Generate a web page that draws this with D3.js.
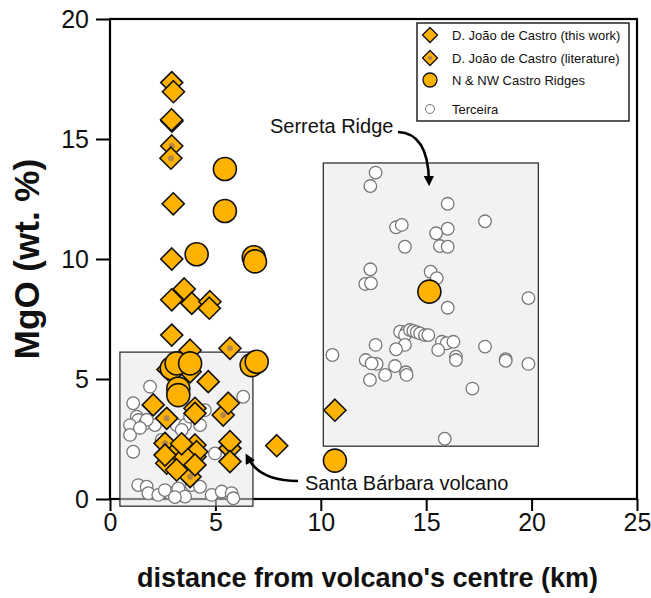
<!DOCTYPE html>
<html>
<head>
<meta charset="utf-8">
<script src="https://cdn.jsdelivr.net/npm/d3@7"></script>
<style>
  body { margin: 0; background: #fff; }
  svg text { font-family: "Liberation Sans", Arial, sans-serif; }
</style>
</head>
<body>
<div id="chart"></div>
<script>
// D. João de Castro, this work  [distance km, MgO wt%]
const djcThisWork = [
  [2.93, 17.35], [3.01, 16.97], [2.92, 15.8], [3.0, 12.3], [2.93, 10.0],
  [2.93, 8.3], [3.52, 8.75], [3.88, 8.15], [4.74, 8.22], [4.71, 7.95],
  [2.93, 6.83], [3.8, 6.2], [2.75, 5.4], [3.8, 5.3], [4.66, 4.89],
  [2.05, 3.92], [4.03, 3.57], [5.61, 3.99], [3.16, 1.97], [4.03, 2.25],
  [4.11, 1.97], [3.56, 1.76], [2.69, 1.49], [3.16, 1.21], [4.03, 1.42],
  [5.69, 2.39], [5.69, 1.56], [10.67, 3.7], [7.91, 2.22], [3.4, 2.3],
  [2.61, 1.83]
];
// D. João de Castro, literature
const djcLiterature = [
  [2.94, 15.75], [2.93, 14.71], [2.89, 14.2], [5.69, 6.28], [4.03, 3.78],
  [5.37, 3.5], [2.69, 3.36], [2.61, 2.32], [4.03, 1.76], [3.8, 0.93],
  [5.69, 2.11]
];
// N & NW Castro Ridges
const castroRidges = [
  [5.45, 13.75], [5.45, 12.0], [4.11, 10.2], [6.82, 10.07], [6.88, 9.9],
  [2.93, 5.45], [3.16, 5.65], [3.8, 5.65], [6.72, 5.58], [6.96, 5.72],
  [3.24, 4.6], [3.24, 4.33], [10.67, 1.6], [15.15, 8.64]
];
// Terceira
const terceira = [
  [1.9, 4.68], [6.32, 4.26], [1.1, 3.99], [1.27, 3.43], [1.34, 3.29],
  [0.95, 3.08], [1.66, 3.15], [2.13, 3.08], [0.95, 2.67], [1.1, 1.97],
  [2.45, 2.46], [3.16, 3.08], [3.56, 3.08], [4.27, 3.08], [4.5, 3.7],
  [3.4, 2.88], [3.8, 3.43], [4.98, 1.9], [1.75, 3.3], [1.42, 2.96],
  [1.34, 0.58], [1.74, 0.51], [1.82, 0.24], [2.29, 0.17], [2.85, 0.24],
  [3.24, 0.44], [3.56, 0.1], [3.87, 0.58], [4.27, 0.51], [4.82, 0.17],
  [5.3, 0.31], [5.77, 0.24], [5.85, 0.03], [2.6, 0.37], [3.08, 0.08],
  [12.6, 13.6], [12.35, 13.04], [16.02, 12.3], [17.79, 11.57], [13.57, 11.32],
  [13.84, 11.42], [16.02, 11.26], [15.47, 11.07], [13.99, 10.51], [15.65, 10.54],
  [16.02, 10.51], [12.35, 9.57], [12.11, 8.96], [12.38, 8.99], [15.21, 9.47],
  [15.5, 9.2], [19.85, 8.37], [16.02, 7.97],
  [13.76, 6.97], [14.07, 6.97], [13.99, 6.83], [14.23, 7.04], [14.39, 7.0],
  [14.55, 6.95], [14.71, 6.9], [14.94, 6.83], [15.1, 6.83], [15.74, 6.55],
  [15.97, 6.49], [16.29, 6.55], [15.57, 6.21], [13.99, 6.42], [13.57, 6.24],
  [12.6, 6.42], [12.13, 5.79], [12.65, 5.63], [12.41, 5.65], [12.33, 4.96],
  [13.05, 5.17], [13.52, 5.54], [14.04, 5.28], [14.07, 5.17], [16.41, 5.93],
  [16.41, 5.79], [17.79, 6.35], [18.77, 5.83], [18.77, 5.76], [19.85, 5.63],
  [17.19, 4.6], [10.55, 6.0], [15.88, 2.51]
];
const xTicks = [0, 5, 10, 15, 20, 25];
const yTicks = [0, 5, 10, 15, 20];
// highlighted areas [x0, x1, y0, y1]
const santaBarbaraBox = [0.47, 6.78, -0.3, 6.12];
const serretaBox = [10.12, 20.32, 2.2, 14.0];

const orange = '#ffb300';
var margin = {top: 19, right: 14, bottom: 99, left: 110},
    width = 651 - margin.left - margin.right,
    height = 598 - margin.top - margin.bottom;

var svg = d3.select('#chart').append('svg')
  .attr('width', 651).attr('height', 598)
  .append('g')
  .attr('transform', 'translate(' + margin.left + ',' + margin.top + ')');

var x = d3.scaleLinear().domain([0, 25]).range([0, width]);
var y = d3.scaleLinear().domain([0, 20]).range([height, 0]);

// axes
var xAxis = svg.append('g')
  .attr('transform', 'translate(0,' + height + ')')
  .call(d3.axisBottom(x).tickValues(xTicks).tickSize(12).tickPadding(2));
var yAxis = svg.append('g')
  .call(d3.axisLeft(y).tickValues(yTicks).tickSize(14).tickPadding(7));
[xAxis, yAxis].forEach(function(a){
  a.select('.domain').remove();
  a.selectAll('line').attr('stroke', '#000').attr('stroke-width', 2);
  a.selectAll('text').style('font-size', '25px').attr('fill', '#111');
});

svg.append('rect')
  .attr('width', width).attr('height', height)
  .attr('fill', 'none').attr('stroke', '#000').attr('stroke-width', 2.2);

// shaded boxes
[santaBarbaraBox, serretaBox].forEach(function(b){
  svg.append('rect')
    .attr('x', x(b[0])).attr('y', y(b[3]))
    .attr('width', x(b[1]) - x(b[0]))
    .attr('height', y(b[2]) - y(b[3]))
    .attr('fill', 'rgba(232,232,232,0.55)')
    .attr('stroke', '#333').attr('stroke-width', 1.3);
});

// points
svg.append('g').selectAll('circle')
  .data(terceira).enter().append('circle')
  .attr('cx', function(d){ return x(d[0]); })
  .attr('cy', function(d){ return y(d[1]); })
  .attr('r', 6.3)
  .attr('fill', '#fff').attr('stroke', '#777').attr('stroke-width', 1.3);

var diamond = function(s){ return 'M0,' + (-s) + 'L' + s + ',0L0,' + s + 'L' + (-s) + ',0Z'; };

var lit = svg.append('g').selectAll('g')
  .data(djcLiterature).enter().append('g')
  .attr('transform', function(d){ return 'translate(' + x(d[0]) + ',' + y(d[1]) + ')'; });
lit.append('path').attr('d', diamond(11))
  .attr('fill', orange).attr('stroke', '#111').attr('stroke-width', 1.6);
lit.append('circle').attr('r', 3).attr('fill', '#b5884a');

svg.append('g').selectAll('path')
  .data(djcThisWork).enter().append('path')
  .attr('transform', function(d){ return 'translate(' + x(d[0]) + ',' + y(d[1]) + ')'; })
  .attr('d', diamond(11))
  .attr('fill', orange).attr('stroke', '#111').attr('stroke-width', 1.6);

svg.append('g').selectAll('circle')
  .data(castroRidges).enter().append('circle')
  .attr('cx', function(d){ return x(d[0]); })
  .attr('cy', function(d){ return y(d[1]); })
  .attr('r', 11.5)
  .attr('fill', orange).attr('stroke', '#111').attr('stroke-width', 1.6);

// annotations
var defs = svg.append('defs');
defs.append('marker')
  .attr('id', 'arrow').attr('viewBox', '0 0 10 10')
  .attr('refX', 5).attr('refY', 5)
  .attr('markerWidth', 4).attr('markerHeight', 4)
  .attr('orient', 'auto-start-reverse')
  .append('path').attr('d', 'M0,0L10,5L0,10Z').attr('fill', '#000');

svg.append('text')
  .attr('x', 160).attr('y', 114)
  .style('font-size', '20px').attr('fill', '#111')
  .text('Serreta Ridge');
svg.append('path')
  .attr('d', 'M288,113 Q318,114 319,162')
  .attr('fill', 'none').attr('stroke', '#000').attr('stroke-width', 2.6)
  .attr('marker-end', 'url(#arrow)');

svg.append('text')
  .attr('x', 195).attr('y', 471)
  .style('font-size', '20px').attr('fill', '#111')
  .text('Santa Bárbara volcano');
svg.append('path')
  .attr('d', 'M188,462 Q150,462 138,439')
  .attr('fill', 'none').attr('stroke', '#000').attr('stroke-width', 2.6)
  .attr('marker-end', 'url(#arrow)');

// axis titles
svg.append('text')
  .attr('transform', 'translate(' + (-71) + ',' + (height / 2) + ') rotate(-90)')
  .attr('text-anchor', 'middle')
  .style('font-size', '35px').style('font-weight', 'bold').attr('fill', '#111')
  .text('MgO (wt. %)');
svg.append('text')
  .attr('x', width / 2 - 6).attr('y', height + 88)
  .attr('text-anchor', 'middle')
  .style('font-size', '27px').style('font-weight', 'bold').attr('fill', '#111')
  .text("distance from volcano's centre (km)");

// legend
var legend = svg.append('g').attr('transform', 'translate(307,4)');
legend.append('rect')
  .attr('width', 212).attr('height', 98)
  .attr('fill', '#fff').attr('stroke', '#222').attr('stroke-width', 1.5);
var legendItems = [
  {label: 'D. João de Castro (this work)', y: 12, type: 'diamond'},
  {label: 'D. João de Castro (literature)', y: 35, type: 'lit'},
  {label: 'N & NW Castro Ridges', y: 57, type: 'ridge'},
  {label: 'Terceira', y: 86, type: 'terceira'}
];
legendItems.forEach(function(it){
  var g = legend.append('g').attr('transform', 'translate(13,' + it.y + ')');
  if(it.type === 'diamond' || it.type === 'lit'){
    g.append('path').attr('d', diamond(7.5))
      .attr('fill', orange).attr('stroke', '#111').attr('stroke-width', 1.3);
    if(it.type === 'lit'){
      g.append('circle').attr('r', 2.2).attr('fill', '#b5884a');
    }
  } else if(it.type === 'ridge'){
    g.append('circle').attr('r', 7)
      .attr('fill', orange).attr('stroke', '#111').attr('stroke-width', 1.3);
  } else {
    g.append('circle').attr('r', 4.5)
      .attr('fill', '#fff').attr('stroke', '#777').attr('stroke-width', 1);
  }
  g.append('text')
    .attr('x', 22).attr('y', 5)
    .style('font-size', '13px').attr('fill', '#111')
    .text(it.label);
});
</script>
</body>
</html>
